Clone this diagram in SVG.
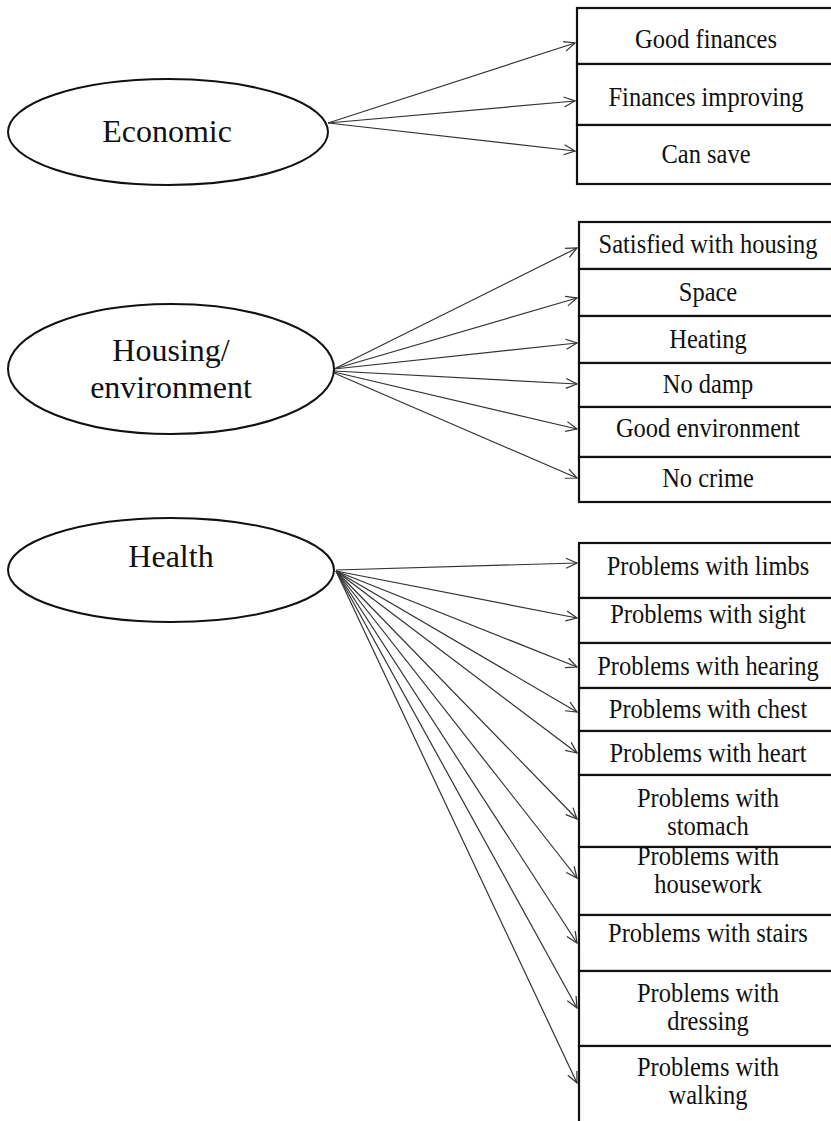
<svg xmlns="http://www.w3.org/2000/svg" width="831" height="1121" viewBox="0 0 831 1121">
<defs>
<marker id="arr" markerWidth="14" markerHeight="12" refX="12" refY="6" orient="auto" markerUnits="userSpaceOnUse">
<path d="M1,1 L12,6 L1,11" fill="none" stroke="#333" stroke-width="1.2"/>
</marker>
<style>
.oval{fill:#fff;stroke:#111;stroke-width:2}
.box{fill:#fff;stroke:#111;stroke-width:2.2}
text{font-family:'Liberation Serif','DejaVu Serif',serif;fill:#111;text-anchor:middle}
.big{font-size:32px}
.lbl{font-size:27.5px}
.edge{stroke:#333;stroke-width:1.2;fill:none;marker-end:url(#arr)}
</style>
</defs>
<rect width="831" height="1121" fill="#fff"/>
<g id="connectors">
<line class="edge" x1="328" y1="123" x2="575" y2="43"/>
<line class="edge" x1="328" y1="123" x2="575" y2="101"/>
<line class="edge" x1="328" y1="123" x2="575" y2="151"/>
<line class="edge" x1="334" y1="369" x2="577" y2="248"/>
<line class="edge" x1="334" y1="369" x2="577" y2="298"/>
<line class="edge" x1="334" y1="369" x2="577" y2="343"/>
<line class="edge" x1="334" y1="371" x2="577" y2="384"/>
<line class="edge" x1="334" y1="372" x2="577" y2="429"/>
<line class="edge" x1="334" y1="373" x2="577" y2="478"/>
<line class="edge" x1="336" y1="570" x2="577" y2="563"/>
<line class="edge" x1="336" y1="571" x2="577" y2="618"/>
<line class="edge" x1="336" y1="571" x2="577" y2="667"/>
<line class="edge" x1="336" y1="571" x2="577" y2="712"/>
<line class="edge" x1="336" y1="571" x2="577" y2="753"/>
<line class="edge" x1="336" y1="571" x2="577" y2="819"/>
<line class="edge" x1="336" y1="571" x2="577" y2="878"/>
<line class="edge" x1="336" y1="571" x2="577" y2="943"/>
<line class="edge" x1="336" y1="571" x2="577" y2="1008"/>
<line class="edge" x1="336" y1="571" x2="577" y2="1083"/>
</g>
<g id="economic"><ellipse class="oval" cx="168" cy="132" rx="160" ry="53"/><text class="big" x="167" y="142">Economic</text></g>
<g id="good-finances"><rect class="box" x="577" y="8" width="270" height="56"/><text class="lbl" transform="translate(706 48) scale(0.89 1)">Good finances</text></g>
<g id="finances-improving"><rect class="box" x="577" y="64" width="270" height="61"/><text class="lbl" transform="translate(706 106) scale(0.89 1)">Finances improving</text></g>
<g id="can-save"><rect class="box" x="577" y="125" width="270" height="59"/><text class="lbl" transform="translate(706 163) scale(0.89 1)">Can save</text></g>
<g id="housing"><ellipse class="oval" cx="171" cy="369" rx="163" ry="65"/><text class="big" x="171" y="361">Housing/</text><text class="big" x="171" y="398">environment</text></g>
<g id="satisfied"><rect class="box" x="579" y="222" width="270" height="47"/><text class="lbl" transform="translate(708 253) scale(0.89 1)">Satisfied with housing</text></g>
<g id="space"><rect class="box" x="579" y="269" width="270" height="47"/><text class="lbl" transform="translate(708 301) scale(0.89 1)">Space</text></g>
<g id="heating"><rect class="box" x="579" y="316" width="270" height="47"/><text class="lbl" transform="translate(708 347.5) scale(0.89 1)">Heating</text></g>
<g id="no-damp"><rect class="box" x="579" y="363" width="270" height="44"/><text class="lbl" transform="translate(708 393) scale(0.89 1)">No damp</text></g>
<g id="good-environment"><rect class="box" x="579" y="407" width="270" height="50"/><text class="lbl" transform="translate(708 437) scale(0.89 1)">Good environment</text></g>
<g id="no-crime"><rect class="box" x="579" y="457" width="270" height="45"/><text class="lbl" transform="translate(708 486.5) scale(0.89 1)">No crime</text></g>
<g id="health"><ellipse class="oval" cx="171" cy="570" rx="163" ry="52"/><text class="big" x="171" y="567">Health</text></g>
<g id="limbs"><rect class="box" x="579" y="543" width="270" height="55"/><text class="lbl" transform="translate(708 575) scale(0.89 1)">Problems with limbs</text></g>
<g id="sight"><rect class="box" x="579" y="598" width="270" height="45"/><text class="lbl" transform="translate(708 622.5) scale(0.89 1)">Problems with sight</text></g>
<g id="hearing"><rect class="box" x="579" y="643" width="270" height="45"/><text class="lbl" transform="translate(708 675) scale(0.89 1)">Problems with hearing</text></g>
<g id="chest"><rect class="box" x="579" y="688" width="270" height="43"/><text class="lbl" transform="translate(708 718) scale(0.89 1)">Problems with chest</text></g>
<g id="heart"><rect class="box" x="579" y="731" width="270" height="44"/><text class="lbl" transform="translate(708 762) scale(0.89 1)">Problems with heart</text></g>
<g id="stomach"><rect class="box" x="579" y="775" width="270" height="72"/><text class="lbl" transform="translate(708 806.5) scale(0.89 1)">Problems with</text><text class="lbl" transform="translate(708 835) scale(0.89 1)">stomach</text></g>
<g id="housework"><rect class="box" x="579" y="847" width="270" height="68"/><text class="lbl" transform="translate(708 865) scale(0.89 1)">Problems with</text><text class="lbl" transform="translate(708 893) scale(0.89 1)">housework</text></g>
<g id="stairs"><rect class="box" x="579" y="915" width="270" height="56"/><text class="lbl" transform="translate(708 942) scale(0.89 1)">Problems with stairs</text></g>
<g id="dressing"><rect class="box" x="579" y="971" width="270" height="75"/><text class="lbl" transform="translate(708 1001.5) scale(0.89 1)">Problems with</text><text class="lbl" transform="translate(708 1030) scale(0.89 1)">dressing</text></g>
<g id="walking"><rect class="box" x="579" y="1046" width="270" height="90"/><text class="lbl" transform="translate(708 1076) scale(0.89 1)">Problems with</text><text class="lbl" transform="translate(708 1104) scale(0.89 1)">walking</text></g>
</svg>
